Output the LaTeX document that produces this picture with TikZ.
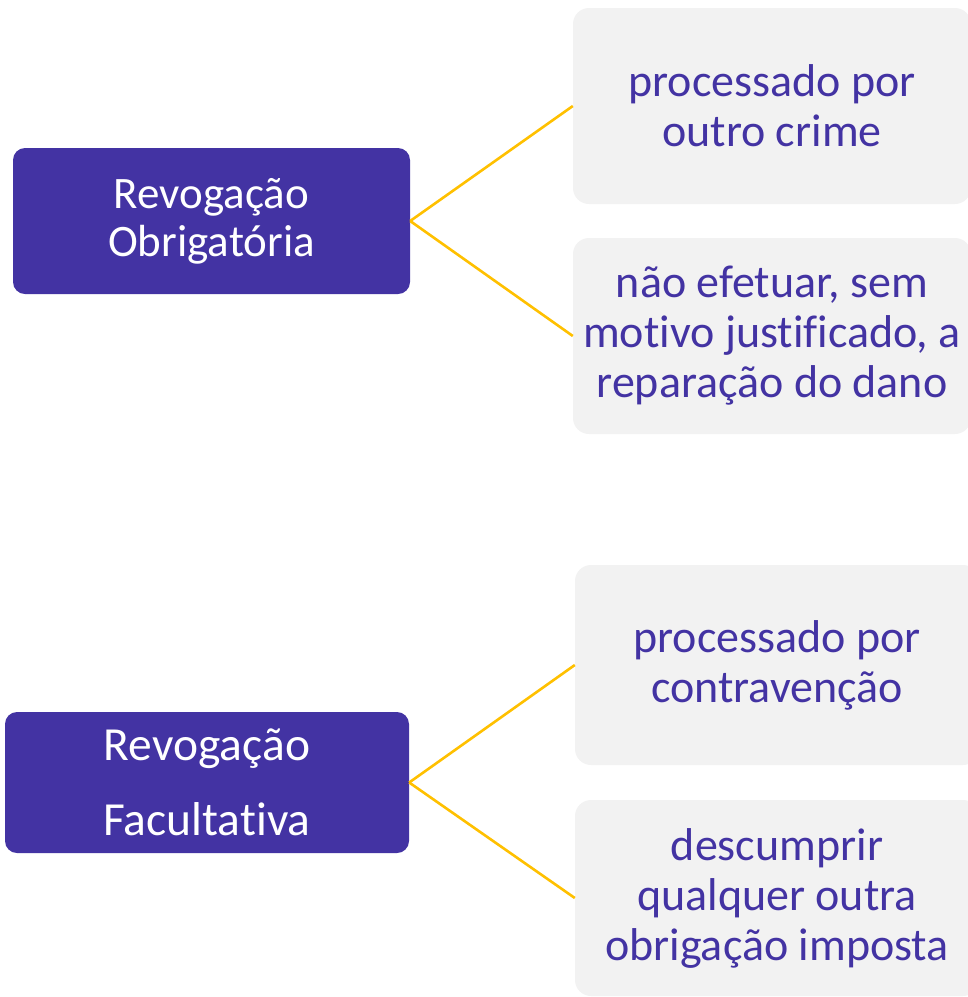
\documentclass[tikz,border=0pt]{standalone}
\usepackage{fontspec}
\setmainfont{Carlito}[Ligatures=NoCommon]
\definecolor{boxpurple}{RGB}{67,51,163}
\definecolor{boxgray}{RGB}{242,242,242}
\definecolor{linegold}{RGB}{255,192,0}
\begin{document}
\begin{tikzpicture}[x=1pt,y=-1pt,
  mainbox/.style={draw=none,fill=boxpurple,rounded corners=12pt,text=white,align=center,inner sep=0pt},
  itembox/.style={draw=none,fill=boxgray,rounded corners=16pt,text=boxpurple,align=center,inner sep=0pt,
     minimum height=196pt,font=\fontsize{46}{50}\selectfont},
  link/.style={draw=linegold,line width=2.6pt}]
\useasboundingbox (0,0) rectangle (968,997);
\clip (0,0) rectangle (968,997);
% top group
\node[mainbox,minimum width=397pt,minimum height=146pt,font=\fontsize{45}{48}\selectfont] (ob) at (211.5,221) {Revogação\\Obrigatória};
\node[itembox,minimum width=398pt] (r1) at (772,106) {processado por\\outro crime};
\node[itembox,minimum width=398pt] (r2) at (772,336) {não efetuar, sem\\motivo justificado, a\\reparação do dano};
% bottom group
\node[mainbox,minimum width=404pt,minimum height=141pt,font=\fontsize{47.5}{75}\selectfont] (fa) at (207,782.5) {Revogação\\Facultativa};
\node[itembox,minimum width=404pt,minimum height=200pt] (r3) at (777,665) {processado por\\contravenção};
\node[itembox,minimum width=404pt] (r4) at (777,898) {descumprir\\qualquer outra\\obrigação imposta};
% connectors
\draw[link] (ob.east) -- (r1.west);
\draw[link] (ob.east) -- (r2.west);
\draw[link] (fa.east) -- (r3.west);
\draw[link] (fa.east) -- (r4.west);
\end{tikzpicture}
\end{document}
